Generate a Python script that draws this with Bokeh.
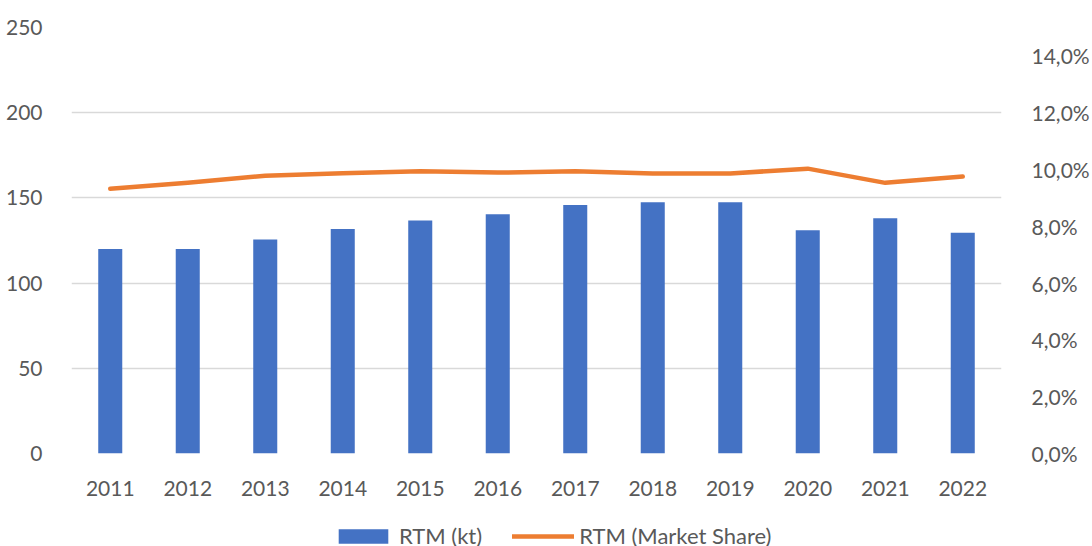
from bokeh.plotting import figure
from bokeh.layouts import column
from bokeh.models import (ColumnDataSource, FactorRange, Range1d, LinearAxis,
                          FixedTicker, Legend, LegendItem)
from bokeh.embed import file_html
from bokeh.resources import INLINE

# RTM volume (kt) and market share (%) per year
years = ["2011", "2012", "2013", "2014", "2015", "2016",
         "2017", "2018", "2019", "2020", "2021", "2022"]
rtm_kt = [120, 120, 125.6, 131.8, 136.7, 140.4, 145.9, 147.5, 147.5, 131.0, 138.1, 129.5]
rtm_share = [9.32, 9.53, 9.78, 9.87, 9.94, 9.89, 9.94, 9.86, 9.86, 10.03, 9.53, 9.75]

left_ticks = [0, 50, 100, 150, 200, 250]
right_ticks = [0, 2, 4, 6, 8, 10, 12, 14]
right_labels = ["0,0%", "2,0%", "4,0%", "6,0%", "8,0%", "10,0%", "12,0%", "14,0%"]
series_names = ["RTM (kt)", "RTM (Market Share)"]

FONT = "Lato"
FSIZE = "21px"
TEXT = "#595959"
GRID = "#D9D9D9"
BLUE = "#4472C4"
ORANGE = "#ED7D31"

src = ColumnDataSource(dict(year=years, kt=rtm_kt, share=rtm_share))

p = figure(width=1092, height=512, x_range=FactorRange(*years),
           y_range=Range1d(0, 250), output_backend="svg",
           toolbar_location=None, min_border_left=71, min_border_right=84,
           min_border_top=27, min_border_bottom=59)
p.outline_line_color = None
p.background_fill_color = "white"
p.border_fill_color = "white"
p.extra_y_ranges = {"pct": Range1d(0, 15)}

bar_style = dict(fill_color=BLUE, line_color=None)
line_style = dict(line_color=ORANGE, line_width=4.5, line_cap="round", line_join="round")

p.vbar(x="year", top="kt", width=0.31, source=src, **bar_style)
p.line(x="year", y="share", source=src, y_range_name="pct", **line_style)

# left value axis
ya = p.yaxis[0]
ya.ticker = FixedTicker(ticks=left_ticks)
ya.major_label_standoff = 23

# right percentage axis
ra = LinearAxis(y_range_name="pct", ticker=FixedTicker(ticks=right_ticks),
                major_label_overrides=dict(zip(right_ticks, right_labels)))
p.add_layout(ra, "right")
ra.major_label_standoff = 24

xa = p.xaxis[0]
xa.major_label_standoff = 21

for ax in [ya, ra, xa]:
    ax.axis_line_color = None
    ax.major_tick_line_color = None
    ax.minor_tick_line_color = None
    ax.major_label_text_font = FONT
    ax.major_label_text_font_size = FSIZE
    ax.major_label_text_color = TEXT

p.xgrid.grid_line_color = None
p.ygrid.grid_line_color = GRID
p.ygrid.grid_line_width = 1.5
p.ygrid.ticker = FixedTicker(ticks=left_ticks)

# legend strip underneath the chart; its key glyphs sit outside the visible range
lg = figure(width=1092, height=34, x_range=Range1d(0, 1), y_range=Range1d(0, 1),
            x_axis_type=None, y_axis_type=None, output_backend="svg",
            toolbar_location=None, min_border=0)
lg.outline_line_color = None
lg.grid.visible = False
offscreen = ColumnDataSource(dict(x=[-10, -9], y=[-10, -10], top=[-5, -5]))
lb = lg.vbar(x="x", top="top", bottom=-10, width=0.1, source=offscreen, **bar_style)
ll = lg.line(x="x", y="y", source=offscreen, **line_style)

legend = Legend(items=[LegendItem(label=series_names[0], renderers=[lb]),
                       LegendItem(label=series_names[1], renderers=[ll])],
                location=(261, -3), orientation="horizontal",
                glyph_width=62, glyph_height=18, label_standoff=5, spacing=30,
                padding=0, margin=0, border_line_color=None,
                background_fill_alpha=0, label_text_font=FONT,
                label_text_font_size="22px", label_text_color=TEXT)
lg.add_layout(legend)

open("out.html", "w").write(file_html(column(p, lg, spacing=0), INLINE))
